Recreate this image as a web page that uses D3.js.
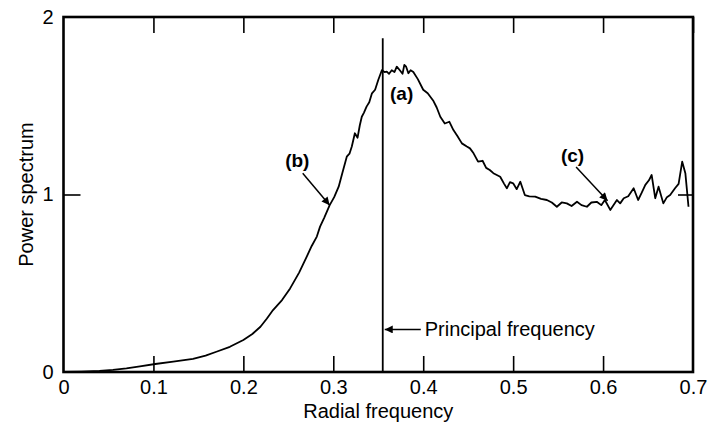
<!DOCTYPE html>
<html><head><meta charset="utf-8">
<script src="https://cdn.jsdelivr.net/npm/d3@7"></script>
<style>
html,body{margin:0;padding:0;background:#fff;}
svg{display:block;}
text{font-family:"Liberation Sans",Arial,Helvetica,sans-serif;fill:#000;}
</style></head>
<body>
<script>
// ---- data ----
const freq = [0, 0.02, 0.04, 0.055, 0.07, 0.085, 0.102, 0.122, 0.144, 0.158,
  0.170, 0.185, 0.200, 0.210, 0.219, 0.226, 0.233, 0.243, 0.252, 0.262,
  0.2705, 0.276, 0.2817, 0.2853, 0.290, 0.296, 0.301, 0.306, 0.310, 0.315,
  0.318, 0.3206, 0.324, 0.327, 0.3295, 0.3317, 0.334, 0.337, 0.340, 0.343,
  0.3465, 0.350, 0.354, 0.357, 0.3595, 0.362, 0.365, 0.368, 0.3706, 0.374,
  0.377, 0.379, 0.381, 0.3835, 0.386, 0.389, 0.394, 0.400, 0.405, 0.411,
  0.415, 0.419, 0.424, 0.429, 0.4336, 0.438, 0.443, 0.4485, 0.452, 0.456,
  0.461, 0.466, 0.470, 0.474, 0.478, 0.4856, 0.490, 0.493, 0.4965, 0.500,
  0.504, 0.508, 0.513, 0.518, 0.5245, 0.531, 0.5375, 0.543, 0.5486, 0.554,
  0.5597, 0.565, 0.571, 0.576, 0.582, 0.587, 0.593, 0.598, 0.602, 0.608,
  0.6154, 0.619, 0.623, 0.628, 0.634, 0.639, 0.643, 0.647, 0.651, 0.654,
  0.658, 0.6617, 0.667, 0.671, 0.6746, 0.680, 0.684, 0.688, 0.6915, 0.695];
const power = [0.0, 0.002, 0.006, 0.012, 0.021, 0.032, 0.045, 0.058, 0.074, 0.092,
  0.114, 0.142, 0.180, 0.214, 0.255, 0.300, 0.349, 0.405, 0.471, 0.560,
  0.650, 0.71, 0.763, 0.819, 0.87, 0.94, 0.985, 1.044, 1.12, 1.213,
  1.23, 1.27, 1.345, 1.32, 1.39, 1.438, 1.46, 1.495, 1.52, 1.57,
  1.59, 1.645, 1.70, 1.69, 1.692, 1.68, 1.70, 1.69, 1.72, 1.70,
  1.68, 1.73, 1.72, 1.683, 1.70, 1.69, 1.65, 1.59, 1.57, 1.53,
  1.49, 1.438, 1.40, 1.41, 1.363, 1.33, 1.288, 1.27, 1.26, 1.232,
  1.185, 1.19, 1.15, 1.138, 1.12, 1.10, 1.06, 1.035, 1.07, 1.063,
  1.03, 1.072, 0.997, 0.99, 0.988, 0.975, 0.969, 0.955, 0.931, 0.955,
  0.950, 0.935, 0.959, 0.94, 0.931, 0.955, 0.959, 0.94, 0.969, 0.913,
  0.969, 0.95, 0.979, 0.99, 1.035, 0.969, 1.01, 1.054, 1.08, 1.11,
  0.979, 1.044, 0.950, 0.985, 0.997, 1.035, 1.06, 1.185, 1.12, 0.931];
const xTicks = [0, 0.1, 0.2, 0.3, 0.4, 0.5, 0.6, 0.7];
const xTickLabels = ["0", "0.1", "0.2", "0.3", "0.4", "0.5", "0.6", "0.7"];
const yTicks = [0, 1, 2];
const yTickLabels = ["0", "1", "2"];
const principalFreq = 0.355;
const xTitle = "Radial frequency";
const yTitle = "Power spectrum";
const notes = [
  {label: "(a)", x: 0.376, y: 1.57},
  {label: "(b)", x: 0.260, y: 1.19},
  {label: "(c)", x: 0.566, y: 1.22}
];
const arrows = [
  {x1: 0.266, y1: 1.12, x2: 0.296, y2: 0.94},
  {x1: 0.570, y1: 1.155, x2: 0.605, y2: 0.965}
];
const principalLabel = "Principal frequency";
const principalLabelY = 0.24;

// ---- layout ----
const W = 715, H = 431;
const L = 63.5, R = 693, T = 17, B = 372;
const svg = d3.select("body").append("svg").attr("width", W).attr("height", H);
svg.append("rect").attr("width", W).attr("height", H).attr("fill", "#fff");

const x = d3.scaleLinear().domain([0, 0.7]).range([L, R]);
const y = d3.scaleLinear().domain([0, 2]).range([B, T]);

const defs = svg.append("defs");
defs.append("marker").attr("id", "ah").attr("viewBox", "0 0 10 10")
  .attr("refX", 10).attr("refY", 5).attr("markerWidth", 11).attr("markerHeight", 8)
  .attr("markerUnits", "userSpaceOnUse").attr("orient", "auto")
  .append("path").attr("d", "M0,0L10,5L0,10z").attr("fill", "#000");

// axes
const fs = 20;
const gx = svg.append("g").attr("transform", `translate(0,${B})`)
  .call(d3.axisBottom(x).tickValues(xTicks).tickFormat((d,i)=>xTickLabels[i])
    .tickSizeInner(-16).tickSizeOuter(0).tickPadding(8));
const gxt = svg.append("g").attr("transform", `translate(0,${T})`)
  .call(d3.axisTop(x).tickValues(xTicks.slice(1)).tickFormat("")
    .tickSizeInner(-16).tickSizeOuter(0));
const gy = svg.append("g").attr("transform", `translate(${L},0)`)
  .call(d3.axisLeft(y).tickValues(yTicks).tickFormat((d,i)=>yTickLabels[i])
    .tickSizeInner(-17).tickSizeOuter(0).tickPadding(10));
const gyr = svg.append("g").attr("transform", `translate(${R},0)`)
  .call(d3.axisRight(y).tickValues([1]).tickFormat("")
    .tickSizeInner(-15).tickSizeOuter(0));
[gx, gxt, gy, gyr].forEach(g => {
  g.select(".domain").remove();
  g.selectAll(".tick line").attr("stroke", "#000").attr("stroke-width", 1.6);
  g.selectAll("text").attr("font-size", fs).attr("font-family", '"Liberation Sans",Arial,sans-serif').attr("fill", "#000");
});
gx.selectAll(".tick").filter(d => d === 0 || d === 0.7).select("line").remove();
gy.selectAll(".tick").filter(d => d !== 1).select("line").remove();

// frame
svg.append("rect").attr("x", L).attr("y", T).attr("width", R - L).attr("height", B - T)
  .attr("fill", "none").attr("stroke", "#000").attr("stroke-width", 2.6);

// principal frequency line
svg.append("line").attr("x1", x(principalFreq)).attr("x2", x(principalFreq))
  .attr("y1", y(1.88)).attr("y2", B).attr("stroke", "#000").attr("stroke-width", 1.8);

// curve
const pts = freq.map((f, i) => [f, power[i]]);
svg.append("path").datum(pts)
  .attr("d", d3.line().x(d => x(d[0])).y(d => y(d[1])))
  .attr("fill", "none").attr("stroke", "#000").attr("stroke-width", 1.8)
  .attr("stroke-linejoin", "round");

// annotations
svg.selectAll("text.note").data(notes).join("text").attr("class", "note")
  .attr("x", d => x(d.x)).attr("y", d => y(d.y)).attr("text-anchor", "middle")
  .attr("dominant-baseline", "central").attr("font-size", 19).attr("font-weight", "bold")
  .text(d => d.label);
svg.selectAll("line.arr").data(arrows).join("line").attr("class", "arr")
  .attr("x1", d => x(d.x1)).attr("y1", d => y(d.y1))
  .attr("x2", d => x(d.x2)).attr("y2", d => y(d.y2))
  .attr("stroke", "#000").attr("stroke-width", 1.5).attr("marker-end", "url(#ah)");

// principal frequency label
const pfx = x(principalFreq);
svg.append("line").attr("x1", pfx + 38).attr("x2", pfx + 2)
  .attr("y1", y(principalLabelY)).attr("y2", y(principalLabelY))
  .attr("stroke", "#000").attr("stroke-width", 1.5).attr("marker-end", "url(#ah)");
svg.append("text").attr("x", pfx + 42).attr("y", y(principalLabelY))
  .attr("dominant-baseline", "central").attr("font-size", fs).text(principalLabel);

// titles
svg.append("text").attr("x", (L + R) / 2).attr("y", 418).attr("text-anchor", "middle")
  .attr("font-size", fs).text(xTitle);
svg.append("text").attr("transform", `translate(33,${(T + B) / 2}) rotate(-90)`)
  .attr("text-anchor", "middle").attr("font-size", fs).text(yTitle);
</script>
</body></html>
